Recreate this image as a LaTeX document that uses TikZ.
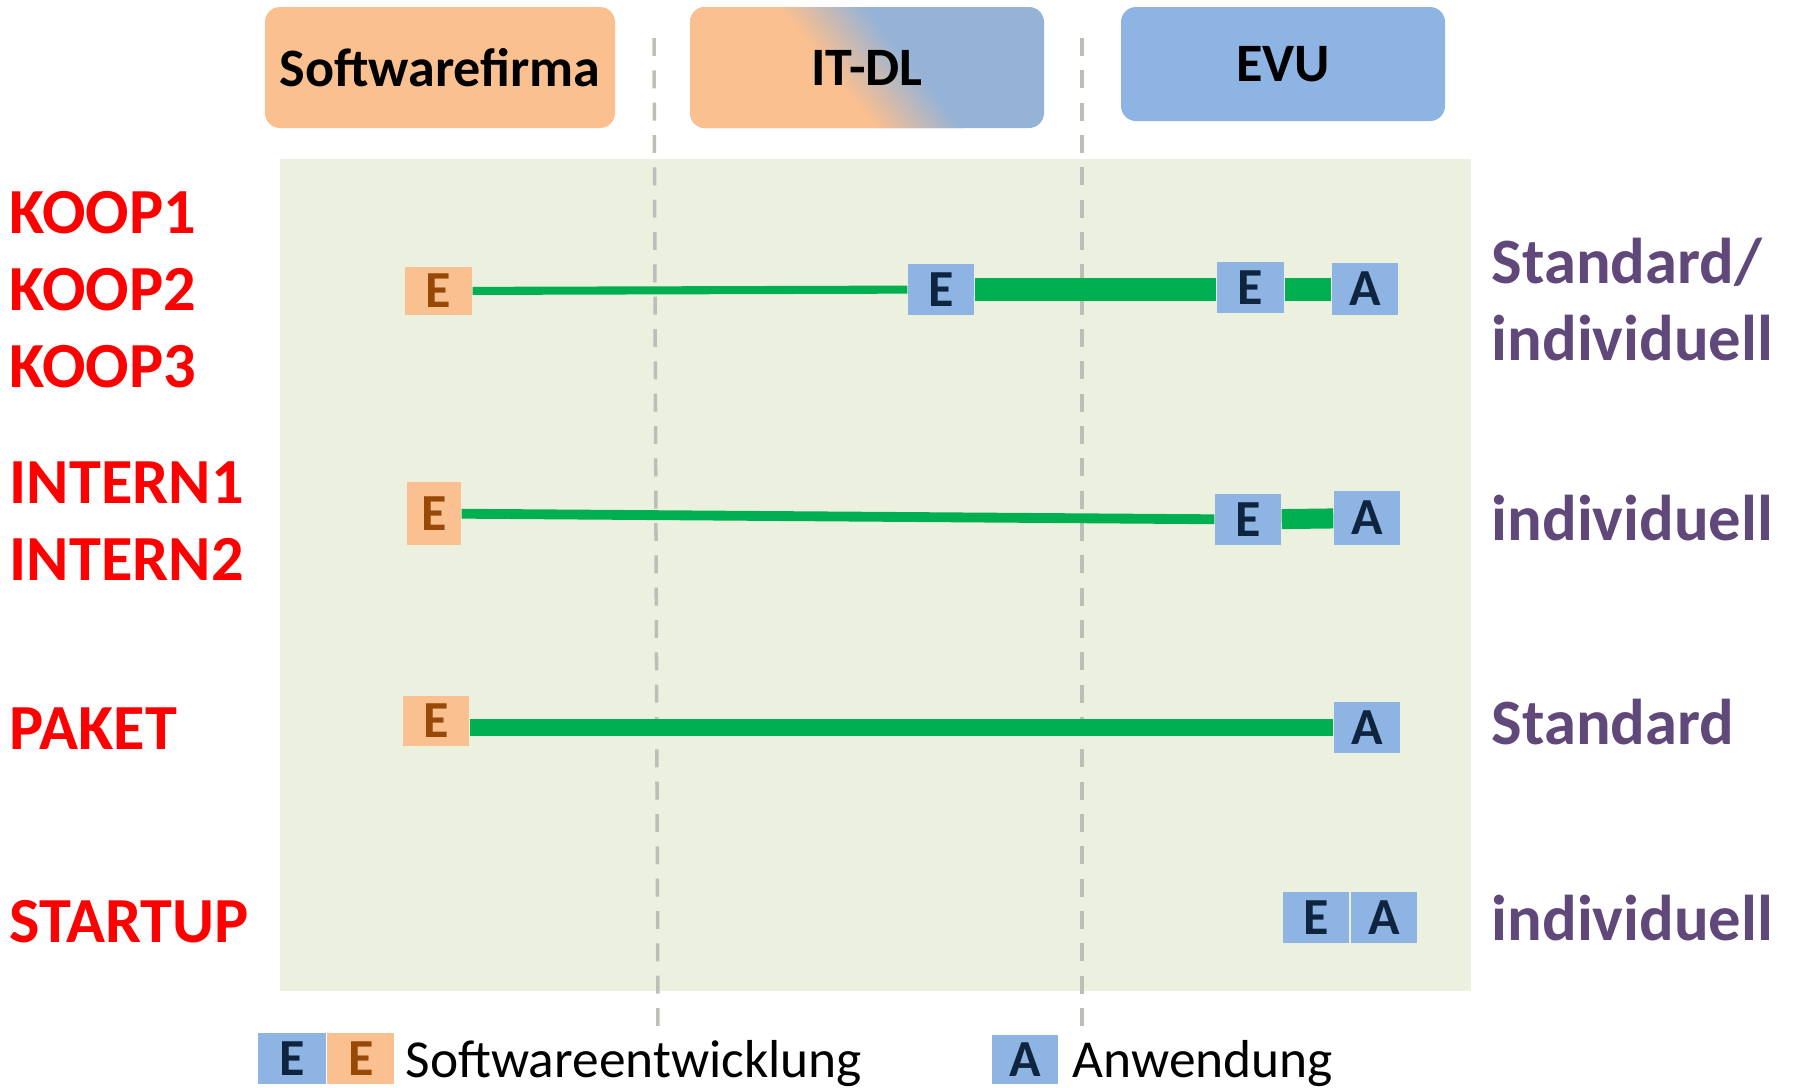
\documentclass[tikz,border=0pt]{standalone}
\usepackage{fontspec}
\setmainfont{Carlito}
\usepackage{tikz}
\usetikzlibrary{positioning,calc}
\usepackage{xcolor}
\definecolor{orangeFill}{RGB}{250,192,144}
\definecolor{blueFill}{RGB}{142,180,227}
\definecolor{blueHead}{RGB}{149,179,215}
\definecolor{bgGreen}{RGB}{235,241,222}
\definecolor{lineGreen}{RGB}{0,176,80}
\definecolor{navyText}{RGB}{15,36,62}
\definecolor{brownText}{RGB}{152,72,7}
\definecolor{purpleText}{RGB}{96,73,122}
\definecolor{grayDash}{RGB}{188,190,184}

\begin{document}
\begin{tikzpicture}[
  head/.style={rounded corners=0.15cm, minimum width=#1, minimum height=1.21cm, inner sep=0pt,
    font=\fontsize{15.4pt}{18pt}\selectfont\bfseries},
  ebox/.style={fill=blueFill, text=navyText, minimum width=0.66cm, minimum height=0.51cm, inner sep=0pt,
    font=\fontsize{14.8pt}{17pt}\selectfont\bfseries},
  obox/.style={ebox, fill=orangeFill, text=brownText},
  rowlab/.style={anchor=base west, inner sep=0pt, text=red, font=\fontsize{18.3pt}{21.9pt}\selectfont\bfseries},
  kindlab/.style={anchor=base west, inner sep=0pt, text=purpleText, align=left,
    font=\fontsize{18.4pt}{21.9pt}\selectfont\bfseries},
  legtext/.style={anchor=base west, inner sep=0pt, font=\fontsize{15.2pt}{17pt}\selectfont},
  flow/.style={draw=lineGreen, line width=#1},
  sep/.style={draw=grayDash, line width=1pt, dash pattern=on 5.1pt off 4.1pt}
]
  \useasboundingbox (0,0) rectangle (17.95,-10.87);

  % headers
  \node[head=3.50cm, fill=orangeFill] (firma) at (4.40,-0.675) {Softwarefirma};
  \node[head=3.54cm, fill=blueHead, path picture={
      \coordinate (nw) at (path picture bounding box.north west);
      \coordinate (sw) at (path picture bounding box.south west);
      \fill[sharp corners, orangeFill] (nw) -- ($(nw)+(0.92,0)$) -- ($(sw)+(1.89,0)$) -- (sw) -- cycle;
      \foreach \i in {0,...,23}{
        \pgfmathtruncatemacro{\pc}{100-(\i+0.5)*100/24}
        \fill[sharp corners, orangeFill!\pc!blueHead] ($(nw)+(0.90+\i*0.036,0)$) -- ($(nw)+(0.945+\i*0.036,0)$)
          -- ($(sw)+(1.915+\i*0.036,0)$) -- ($(sw)+(1.87+\i*0.036,0)$) -- cycle;}
    }] (itdl) at (8.67,-0.675) {IT-DL};
  \node[head=3.24cm, minimum height=1.14cm, fill=blueFill] (evu) at (12.83,-0.64) {EVU};

  % field and separators
  \fill[bgGreen] (2.80,-1.59) rectangle (14.71,-9.91);
  \draw[sep] (6.54,-0.38) -- (6.58,-10.33);
  \draw[sep] (10.82,-0.38) -- (10.82,-10.33);

  % row labels
  \foreach \lbl/\yy in {KOOP1/2.33,KOOP2/3.10,KOOP3/3.87,INTERN1/5.03,INTERN2/5.80,PAKET/7.49,STARTUP/9.42}
    \node[rowlab] (\lbl) at (0.09,-\yy) {\lbl};

  \node[kindlab] (kindKoop) at (14.91,-3.60) {Standard/\\individuell};
  \node[kindlab] (kindIntern) at (14.91,-5.40) {individuell};
  \node[kindlab] (kindPaket) at (14.91,-7.44) {Standard};
  \node[kindlab] (kindStart) at (14.91,-9.40) {individuell};

  % KOOP
  \node[obox, minimum width=0.67cm, minimum height=0.48cm] (koopE) at (4.385,-2.91) {E};
  \node[ebox] (koopE2) at (9.41,-2.895) {E};
  \node[ebox, minimum width=0.67cm] (koopE3) at (12.505,-2.875) {E};
  \node[ebox, minimum height=0.52cm] (koopA) at (13.65,-2.89) {A};
  \draw[flow=2.3pt] (koopE) -- (koopE2);
  \draw[flow=6.3pt] (koopE2.east) -- (koopE2.east -| koopE3.west);
  \draw[flow=6.3pt] (koopE3.east |- koopE2.east) -- (koopE2.east -| koopA.west);

  % INTERN
  \node[obox, minimum width=0.54cm, minimum height=0.63cm] (intE) at (4.34,-5.135) {E};
  \node[ebox] (intE2) at (12.48,-5.195) {E};
  \node[ebox, minimum height=0.54cm] (intA) at (13.67,-5.18) {A};
  \draw[flow=2.8pt] (intE) -- (intE2);
  \draw[flow=5.7pt] (intE2) -- (intA);

  % PAKET
  \node[obox, minimum height=0.50cm] (paketE) at (4.36,-7.21) {E};
  \node[ebox] (paketA) at (13.67,-7.275) {A};
  \draw[flow=5.1pt] (paketE.east |- paketA) -- (paketA);

  % STARTUP
  \node[ebox] (startE) at (13.16,-9.175) {E};
  \node[ebox, right=0.01cm of startE] (startA) {A};

  % legend
  \node[ebox, minimum width=0.68cm] (legE1) at (2.92,-10.585) {E};
  \node[obox, minimum width=0.67cm, right=0pt of legE1] (legE2) {E};
  \node[legtext] (legEtxt) at (4.05,-10.77) {Softwareentwicklung};
  \node[ebox, minimum height=0.49cm] (legA) at (10.25,-10.595) {A};
  \node[legtext] (legAtxt) at (10.72,-10.77) {Anwendung};
\end{tikzpicture}
\end{document}
